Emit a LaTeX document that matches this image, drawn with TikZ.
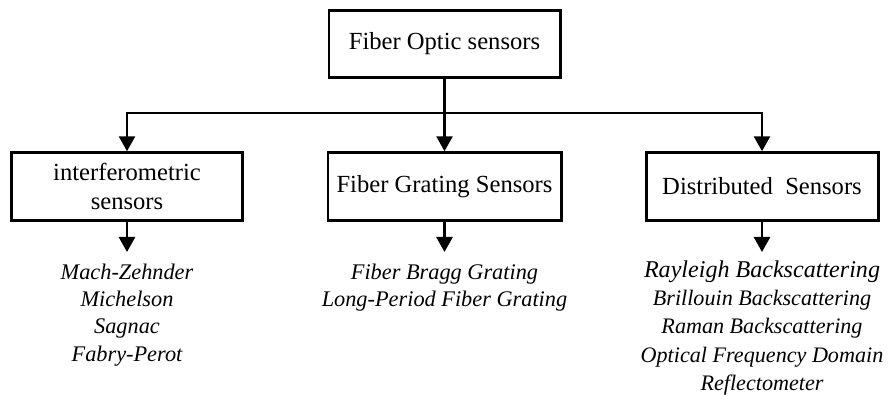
\documentclass[tikz,border=0pt]{standalone}
\usepackage{fontspec}
\setmainfont{Liberation Serif}
\usetikzlibrary{arrows.meta,positioning}
\tikzset{%
	box/.style   = {draw, rectangle, line width=1.7pt, minimum width=4.62cm, minimum height=1.35cm, align=center, font=\fontsize{14}{17}\selectfont},
	arrow/.style = {line width=1.5pt, -{Triangle[width=0.32cm,length=0.3cm]}},
	list/.style  = {anchor=north, inner sep=0pt, align=center, font=\itshape\fontsize{12.7}{15.4}\selectfont},
}
\begin{document}
\begin{tikzpicture}
	\useasboundingbox (0,0) rectangle (17.76,7.88);
	
	\node[box] (fos) at (8.89,7.0) {Fiber Optic sensors};
	\node[box] (interf) at (2.54,4.15) {interferometric\\sensors};
	\node[box, minimum width=4.66cm] (grating) at (8.89,4.15) {Fiber Grating Sensors};
	\node[box, minimum width=4.64cm] (distrib) at (15.24,4.15) {Distributed\ \ Sensors};
	
	\coordinate (split) at (8.89,5.62);
	\draw[arrow] (fos.south) -- (grating.north);
	\draw[arrow] (split) -| (interf.north);
	\draw[arrow] (split) -| (distrib.north);
	
	% arrows down to the lists
	\coordinate (tipA) at (2.54,2.84);
	\coordinate (tipB) at (8.89,2.84);
	\coordinate (tipC) at (15.24,2.84);
	\draw[arrow] (interf.south) -- (tipA);
	\draw[arrow] (grating.south) -- (tipB);
	\draw[arrow] (distrib.south) -- (tipC);
	
	\node[list, below=0.24cm of tipA] (listA) {Mach-Zehnder\\Michelson\\Sagnac\\Fabry-Perot};
	\node[list, below=0.24cm of tipB] (listB) {Fiber Bragg Grating\\Long-Period Fiber Grating};
	\node[list, below=0.16cm of tipC, font=\itshape\fontsize{12.6}{16.2}\selectfont] (listC) {{\fontsize{13.7}{16.2}\selectfont Rayleigh Backscattering}\\Brillouin Backscattering\\Raman Backscattering\\Optical Frequency Domain\\Reflectometer};
\end{tikzpicture}
\end{document}
